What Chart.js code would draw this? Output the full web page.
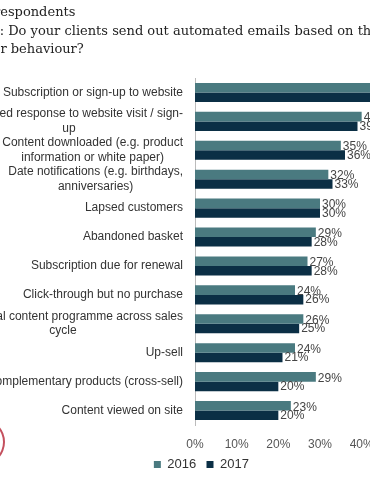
<!DOCTYPE html>
<html>
<head>
<meta charset="utf-8">
<script src="https://cdn.jsdelivr.net/npm/chart.js@4"></script>
<style>
  html, body { margin: 0; padding: 0; width: 370px; height: 490px; overflow: hidden; background: #fff; }
  .tl {
    position: absolute; white-space: nowrap; z-index: 2;
    font-family: "DejaVu Serif", Georgia, serif; font-size: 13px; line-height: 18px; color: #222;
  }
  #wrap { position: absolute; left: -60px; top: 0; width: 545px; height: 490px; }
  #ring {
    position: absolute; left: -39px; top: 419px; width: 40px; height: 42px;
    border: 2px solid #c4505e; border-radius: 50%;
  }
</style>
</head>
<body>
<div class="tl" style="top:3px"><span class="pre">Base: All r</span>espondents</div>
<div class="tl" style="top:21.5px"><span class="pre">Q</span>: Do your clients send out automated emails based on their</div>
<div class="tl" style="top:40px"><span class="pre">custome</span>r behaviour?</div>
<div id="wrap"><canvas id="chart" width="545" height="490"></canvas></div>
<div id="ring"></div>
<script>
// title lines are cut by the left edge of the slide
document.querySelectorAll(".tl").forEach(d => {
  d.style.left = -d.querySelector(".pre").offsetWidth + "px";
});

// DATA
const categories = [
  ["Subscription or sign-up to website"],
  ["Automated response to website visit / sign-", "up"],
  ["Content downloaded (e.g. product", "information or white paper)"],
  ["Date notifications (e.g. birthdays,", "anniversaries)"],
  ["Lapsed customers"],
  ["Abandoned basket"],
  ["Subscription due for renewal"],
  ["Click-through but no purchase"],
  ["Educational content programme across sales", "cycle"],
  ["Up-sell"],
  ["Complementary products (cross-sell)"],
  ["Content viewed on site"]
];
const values2016 = [45, 40, 35, 32, 30, 29, 27, 24, 26, 24, 29, 23];
const values2017 = [47, 39, 36, 33, 30, 28, 28, 26, 25, 21, 20, 20];
const tickValues = [0, 10, 20, 30, 40, 50, 60];

const ctx = document.getElementById("chart").getContext("2d");

// category labels, excel style: block right aligned, lines centred
const catLabels = {
  id: "catLabels",
  afterDraw(chart) {
    const c = chart.ctx;
    const y = chart.scales.y;
    const right = chart.chartArea.left - 12;
    c.save();
    c.font = "12px 'Liberation Sans', Arial, sans-serif";
    c.fillStyle = "#333";
    c.textAlign = "center";
    c.textBaseline = "middle";
    categories.forEach((lines, i) => {
      const w = Math.max(...lines.map(l => c.measureText(l).width));
      const cx = right - w / 2;
      const yc = y.getPixelForValue(i);
      const lh = 14.5;
      const y0 = yc - (lines.length - 1) * lh / 2;
      lines.forEach((l, j) => c.fillText(l, cx, y0 + j * lh));
    });
    c.restore();
  }
};

// value labels at end of bars
const valueLabels = {
  id: "valueLabels",
  afterDatasetsDraw(chart) {
    const c = chart.ctx;
    c.save();
    c.font = "12px 'Liberation Sans', Arial, sans-serif";
    c.fillStyle = "#444";
    c.textAlign = "left";
    c.textBaseline = "middle";
    chart.data.datasets.forEach((ds, di) => {
      chart.getDatasetMeta(di).data.forEach((bar, i) => {
        const yy = di === 0 ? bar.y + 1.5 : bar.y + 0.5;
        c.fillText(ds.data[i] + "%", bar.x + 2, yy);
      });
    });
    c.restore();
  }
};

new Chart(ctx, {
  type: "bar",
  data: {
    labels: categories.map(l => l.join(" ")),
    datasets: [
      { label: "2016", data: values2016, backgroundColor: "#4a7a80" },
      { label: "2017", data: values2017, backgroundColor: "#0b2f45" }
    ]
  },
  options: {
    indexAxis: "y",
    responsive: false,
    animation: false,
    layout: { padding: { top: 78, right: 15, bottom: 9, left: 0 } },
    datasets: { bar: { barPercentage: 1, categoryPercentage: 0.66 } },
    scales: {
      x: {
        min: 0, max: 66,
        afterBuildTicks: (s) => { s.ticks = tickValues.map(v => ({ value: v })); },
        afterFit: (s) => { s.height = 30; },
        grid: { display: false, drawTicks: false },
        border: { display: false },
        ticks: {
          padding: 12,
          color: "#555",
          font: { family: "'Liberation Sans', Arial, sans-serif", size: 12 },
          callback: (v) => v + "%"
        }
      },
      y: {
        afterFit: (s) => { s.width = 255; },
        grid: { display: false, drawTicks: false },
        border: { display: true, color: "#bbb" },
        ticks: { display: false }
      }
    },
    plugins: {
      legend: {
        position: "bottom",
        labels: {
          boxWidth: 7, boxHeight: 7, padding: 3,
          color: "#333",
          font: { family: "'Liberation Sans', Arial, sans-serif", size: 13 },
          // a bit of space after each entry
          generateLabels: (chart) =>
            Chart.defaults.plugins.legend.labels.generateLabels(chart)
              .map(l => ({ ...l, text: l.text + "  " }))
        }
      },
      tooltip: { enabled: false }
    }
  },
  plugins: [catLabels, valueLabels]
});
</script>
</body>
</html>
